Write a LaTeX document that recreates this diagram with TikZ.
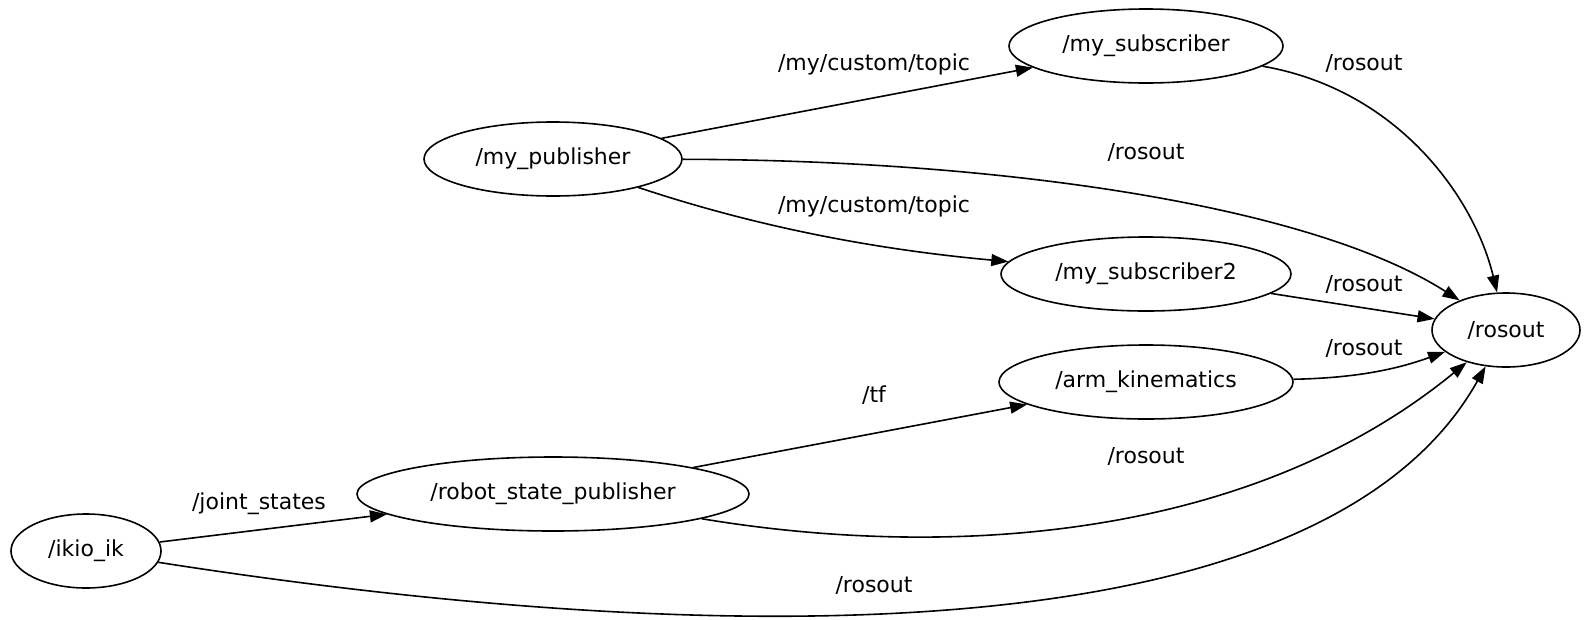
\documentclass[tikz,border=0pt]{standalone}
\usepackage{fontspec}
\setmainfont{DejaVu Sans}
\usetikzlibrary{shapes.geometric,arrows.meta}
\begin{document}
\begin{tikzpicture}[x=1pt,y=-1pt,
    every node/.style={font=\fontsize{22}{26}\selectfont},
    rosnode/.style={draw,ellipse,line width=1.6pt,minimum height=74pt,inner sep=0pt},
    link/.style={line width=1.6pt,-{Triangle[length=17pt,width=12pt]}}]
  \useasboundingbox (0,0) rectangle (1590,619);
  % nodes
  \node[rosnode,minimum width=258pt] (pub) at (553,159) {/my\_publisher};
  \node[rosnode,minimum width=274pt] (sub) at (1146,46) {/my\_subscriber};
  \node[rosnode,minimum width=290pt] (sub2) at (1146,274) {/my\_subscriber2};
  \node[rosnode,minimum width=294pt] (arm) at (1146,382) {/arm\_kinematics};
  \node[rosnode,minimum width=148pt] (ros) at (1506,330) {/rosout};
  \node[rosnode,minimum width=392pt] (rsp) at (553,494) {/robot\_state\_publisher};
  \node[rosnode,minimum width=150pt] (ikio) at (86,551) {/ikio\_ik};
  % labels
  \node (t1) at (874,64) {/my/custom/topic};
  \node (t2) at (874,206) {/my/custom/topic};
  \node (r1) at (1146,152) {/rosout};
  \node (r2) at (1364,63) {/rosout};
  \node (r3) at (1364,284) {/rosout};
  \node (r4) at (1364,348) {/rosout};
  \node (r5) at (1146,456) {/rosout};
  \node (r6) at (874,585) {/rosout};
  \node (tf) at (874,395) {/tf};
  \node (js) at (259,504) {/joint\_states};
  % edges
  \begin{scope}[link]
    \draw (pub) -- (sub);
    \draw (pub) .. controls (1000,160) and (1310,205) .. (ros);
    \draw (pub) .. controls (760,228) and (880,250) .. (sub2);
    \draw (sub) .. controls (1400,90) and (1475,200) .. (ros);
    \draw (sub2) -- (ros);
    \draw (arm) .. controls (1360,378) and (1400,368) .. (ros);
    \draw (rsp) -- (arm);
    \draw (rsp) .. controls (950,560) and (1250,540) .. (ros);
    \draw (ikio) -- (rsp);
    \draw (ikio) .. controls (700,647) and (1320,662) .. (ros);
  \end{scope}
\end{tikzpicture}
\end{document}
